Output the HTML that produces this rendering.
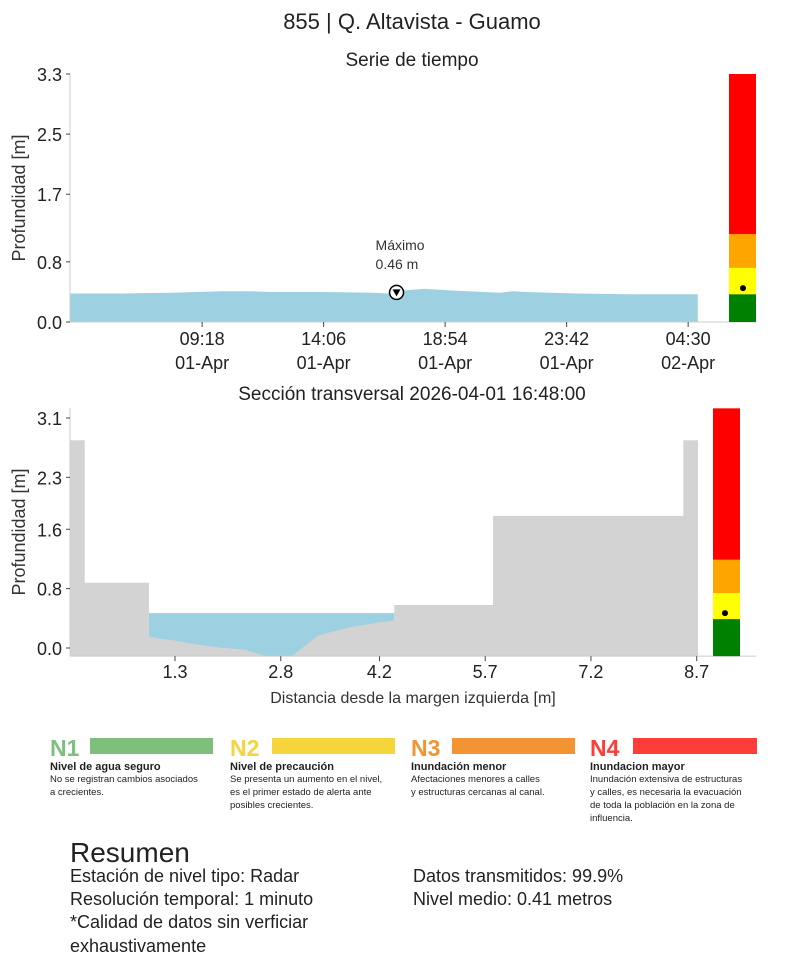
<!DOCTYPE html>
<html><head><meta charset="utf-8"><style>
body{margin:0;background:#fff;}
svg{display:block;font-family:"Liberation Sans","DejaVu Sans",sans-serif;}
</style></head><body>
<svg id="page" width="809" height="969" viewBox="0 0 809 969">
<text x="412" y="29" font-size="22" text-anchor="middle" fill="#222">855 | Q. Altavista - Guamo</text>
<text x="412" y="66" font-size="19" text-anchor="middle" fill="#222">Serie de tiempo</text>
<g id="ts"></g>
<text x="412" y="400" font-size="19" text-anchor="middle" fill="#222">Sección transversal 2026-04-01 16:48:00</text>
<g id="xs"></g>
<g font-size="10" fill="#222">
 <text x="50" y="756" font-size="23" font-weight="bold" fill="#7dbf7b">N1</text>
 <rect x="90" y="738" width="123" height="16" fill="#7dbf7b"/>
 <text x="50" y="770" font-size="11" font-weight="bold">Nivel de agua seguro</text>
 <text x="50" y="782" font-size="9.5"><tspan x="50">No se registran cambios asociados</tspan><tspan x="50" dy="13">a crecientes.</tspan></text>
 <text x="230" y="756" font-size="23" font-weight="bold" fill="#f6d43c">N2</text>
 <rect x="272" y="738" width="123" height="16" fill="#f6d43c"/>
 <text x="230" y="770" font-size="11" font-weight="bold">Nivel de precaución</text>
 <text x="230" y="782" font-size="9.5"><tspan x="230">Se presenta un aumento en el nivel,</tspan><tspan x="230" dy="13">es el primer estado de alerta ante</tspan><tspan x="230" dy="13">posibles crecientes.</tspan></text>
 <text x="411" y="756" font-size="23" font-weight="bold" fill="#f39433">N3</text>
 <rect x="452" y="738" width="123" height="16" fill="#f39433"/>
 <text x="411" y="770" font-size="11" font-weight="bold">Inundación menor</text>
 <text x="411" y="782" font-size="9.5"><tspan x="411">Afectaciones menores a calles</tspan><tspan x="411" dy="13">y estructuras cercanas al canal.</tspan></text>
 <text x="590" y="756" font-size="23" font-weight="bold" fill="#fc3d3a">N4</text>
 <rect x="633" y="738" width="124" height="16" fill="#fc3d3a"/>
 <text x="590" y="770" font-size="11" font-weight="bold">Inundacion mayor</text>
 <text x="590" y="782" font-size="9.5"><tspan x="590">Inundación extensiva de estructuras</tspan><tspan x="590" dy="13">y calles, es necesaria la evacuación</tspan><tspan x="590" dy="13">de toda la población en la zona de</tspan><tspan x="590" dy="13">influencia.</tspan></text>
</g>
<g fill="#222">
 <text x="70" y="862" font-size="28">Resumen</text>
 <text x="70" y="882" font-size="18">Estación de nivel tipo: Radar</text>
 <text x="70" y="905" font-size="18">Resolución temporal: 1 minuto</text>
 <text x="70" y="928" font-size="18">*Calidad de datos sin verficiar</text>
 <text x="70" y="952" font-size="18">exhaustivamente</text>
 <text x="413" y="882" font-size="18">Datos transmitidos: 99.9%</text>
 <text x="413" y="905" font-size="18">Nivel medio: 0.41 metros</text>
</g>
</svg>
<script>
// ---- time series data (hours since start ~04:05 01-Apr) ----
const tsHours=[0,2,4,6,7,8,10,12,12.5,13.2,14,15,17,17.5,18,20,22,24.8];
const tsDepth=[0.38,0.38,0.39,0.41,0.41,0.40,0.40,0.39,0.38,0.42,0.44,0.42,0.39,0.41,0.40,0.38,0.37,0.37];
const tsTickHours=[5.22,10.02,14.82,19.62,24.42];
const tsTickLabels=["09:18","14:06","18:54","23:42","04:30"];
const tsTickDates=["01-Apr","01-Apr","01-Apr","01-Apr","02-Apr"];
const tsYTicks=[0.0,0.8,1.7,2.5,3.3];
const maxHour=12.9, maxValue=0.46, currentLevel=0.45;
const levelBounds=[0,0.37,0.72,1.17,3.3];
const levelColors=["#008000","#ffff00","#ffa500","#ff0000"];
// ---- cross section data ----
const groundX=[-0.19,0.02,0.02,0.93,0.93,1.3,1.65,2.0,2.29,2.58,2.96,3.33,3.78,4.21,4.41,4.41,5.81,5.81,8.51,8.51,8.72];
const groundY=[2.8,2.8,0.88,0.88,0.15,0.1,0.04,0.0,-0.02,-0.11,-0.11,0.17,0.28,0.35,0.37,0.58,0.58,1.78,1.78,2.8,2.8];
const waterLevel=0.47;
const xsXTicks=[1.3,2.8,4.2,5.7,7.2,8.7];
const xsYTicks=[0.0,0.8,1.6,2.3,3.1];
const xsLevelBounds=[-0.11,0.39,0.74,1.19,3.23];
const xsCurrent=0.47;

const NS="http://www.w3.org/2000/svg";
function el(parent,tag,attrs,text){const e=document.createElementNS(NS,tag);for(const k in attrs)e.setAttribute(k,attrs[k]);if(text!==undefined)e.textContent=text;parent.appendChild(e);return e;}

// time series
(function(){
 const g=document.getElementById('ts');
 const x=h=>70+h*(121.5/4.8);
 const y=v=>322-v*(248/3.3);
 let d=`M${x(tsHours[0])},${y(0)}`;
 tsHours.forEach((h,i)=>d+=` L${x(h)},${y(tsDepth[i])}`);
 d+=` L${x(tsHours[tsHours.length-1])},${y(0)} Z`;
 const a=el(g,'path',{d:d,fill:'#9dd0e0'});
 
 
 el(g,'line',{x1:70,y1:74,x2:70,y2:322,stroke:'#ccc'});
 el(g,'line',{x1:70,y1:322,x2:756,y2:322,stroke:'#ccc'});
 tsYTicks.forEach(v=>{
  el(g,'line',{x1:66,x2:70,y1:y(v),y2:y(v),stroke:'#444'});
  const t=el(g,'text',{x:62,y:y(v)+7,'font-size':18,'text-anchor':'end',fill:'#222'},v.toFixed(1));
  
  
 });
 tsTickHours.forEach((h,i)=>{
  el(g,'line',{x1:x(h),x2:x(h),y1:322,y2:327,stroke:'#444'});
  const t=el(g,'text',{x:x(h),y:345,'font-size':18,'text-anchor':'middle',fill:'#222'},tsTickLabels[i]);
  
  
  const t2=el(g,'text',{x:x(h),y:369,'font-size':18,'text-anchor':'middle',fill:'#222'},tsTickDates[i]);
  
  
 });
 const yl=el(g,'text',{transform:'translate(25,198) rotate(-90)','font-size':18,'text-anchor':'middle',fill:'#333'},'Profundidad [m]');
 
 
 const mx=x(maxHour),my=y(maxValue)+5;
 const m=el(g,'circle',{cx:mx,cy:my,r:7,fill:'#fff',stroke:'#000','stroke-width':1.5});
 
 
 el(g,'path',{d:`M${mx-4},${my-3} L${mx+4},${my-3} L${mx},${my+4} Z`,fill:'#000'});
 const ml=el(g,'text',{x:mx-21,y:250,'font-size':14,fill:'#333'},'Máximo');
 
 
 const mv=el(g,'text',{x:mx-21,y:269,'font-size':14,fill:'#333'},maxValue.toFixed(2)+' m');
 
 
 levelColors.forEach((c,i)=>{
  const r=el(g,'rect',{x:729,width:27,y:y(levelBounds[i+1]),height:y(levelBounds[i])-y(levelBounds[i+1]),fill:c});
  
  
 });
 const dt=el(g,'circle',{cx:743,cy:y(currentLevel),r:3,fill:'#000'});
 
 
})();

// cross section
(function(){
 const g=document.getElementById('xs');
 const x=m=>175+(m-1.3)*70.5;
 const y=v=>648-v*74.2;
 const base=y(-0.11);
 // water
 const w=el(g,'rect',{x:x(0.93),y:y(waterLevel),width:x(4.41)-x(0.93),height:base-y(waterLevel),fill:'#9dd0e0'});
 
 
 let d=`M${x(groundX[0])},${base}`;
 groundX.forEach((m,i)=>d+=` L${x(m)},${y(groundY[i])}`);
 d+=` L${x(groundX[groundX.length-1])},${base} Z`;
 const gr=el(g,'path',{d:d,fill:'#d3d3d3'});
 
 
 el(g,'line',{x1:70,y1:408,x2:70,y2:base,stroke:'#ccc'});
 el(g,'line',{x1:70,y1:base,x2:756,y2:base,stroke:'#ccc'});
 xsYTicks.forEach(v=>{
  el(g,'line',{x1:66,x2:70,y1:y(v),y2:y(v),stroke:'#444'});
  const t=el(g,'text',{x:62,y:y(v)+7,'font-size':18,'text-anchor':'end',fill:'#222'},v.toFixed(1));
  
  
 });
 xsXTicks.forEach(v=>{
  el(g,'line',{x1:x(v),x2:x(v),y1:base,y2:base+5,stroke:'#444'});
  const t=el(g,'text',{x:x(v),y:base+22,'font-size':18,'text-anchor':'middle',fill:'#222'},v.toFixed(1));
  
  
 });
 const xl=el(g,'text',{x:413,y:703,'font-size':16,'text-anchor':'middle',fill:'#333'},'Distancia desde la margen izquierda [m]');
 
 
 const yl=el(g,'text',{transform:'translate(25,532) rotate(-90)','font-size':18,'text-anchor':'middle',fill:'#333'},'Profundidad [m]');
 
 
 levelColors.forEach((c,i)=>{
  const r=el(g,'rect',{x:713,width:27,y:y(xsLevelBounds[i+1]),height:y(xsLevelBounds[i])-y(xsLevelBounds[i+1]),fill:c});
  
  
 });
 const dt=el(g,'circle',{cx:725,cy:y(xsCurrent),r:3,fill:'#000'});
 
 
})();
</script>
</body></html>
